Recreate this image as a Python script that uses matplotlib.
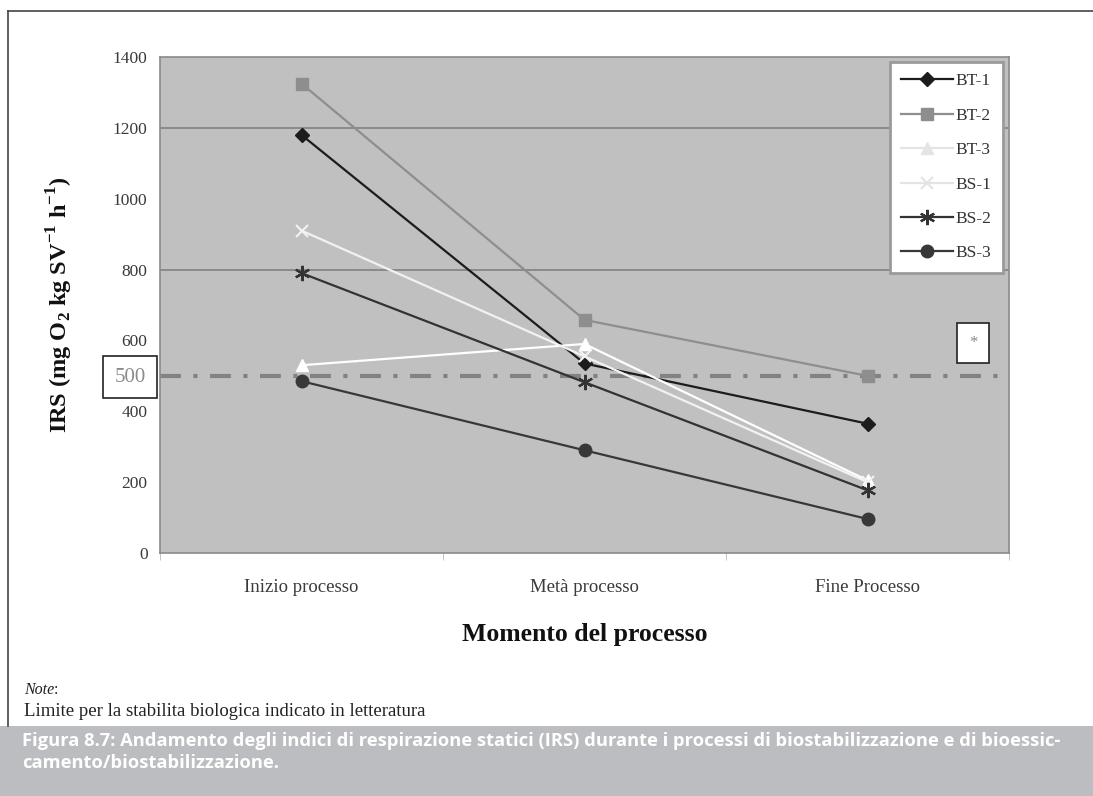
import matplotlib
matplotlib.use("Agg")
import matplotlib.pyplot as plt
from matplotlib.lines import Line2D

# Data: static respiration index over the process
categories = ["Inizio processo", "Metà processo", "Fine Processo"]
bt1 = [1180, 535, 365]
bt2 = [1325, 658, 500]
bt3 = [530, 590, 205]
bs1 = [910, 555, 200]
bs2 = [790, 482, 177]
bs3 = [485, 290, 96]
series_names = ["BT-1", "BT-2", "BT-3", "BS-1", "BS-2", "BS-3"]
limit_value = 500
y_ticks = [0, 200, 400, 600, 800, 1000, 1200, 1400]
grid_values = [800, 1200]

plt.rcParams["mathtext.fontset"] = "custom"
plt.rcParams["mathtext.rm"] = "Liberation Serif"
plt.rcParams["mathtext.bf"] = "Liberation Serif:bold"

serif = ["Liberation Serif", "DejaVu Serif"]
W, H = 1093, 796
fig = plt.figure(figsize=(W / 100, H / 100), dpi=100)
fig.patch.set_facecolor("white")

ax = fig.add_axes([160 / W, 1 - 553 / H, 849 / W, 496 / H])
ax.set_facecolor("#c0c0c0")
for s in ax.spines.values():
    s.set_color("#8a8a8a")
    s.set_linewidth(1.2)

x = list(range(len(categories)))
styles = [
    dict(color="#1c1c1c", marker="D", ms=7, mfc="#1c1c1c", mec="#1c1c1c"),
    dict(color="#8e8e8e", marker="s", ms=9, mfc="#8e8e8e", mec="#8e8e8e"),
    dict(color="#ffffff", marker="^", ms=9, mfc="#ffffff", mec="#ffffff"),
    dict(color="#f2f2f2", marker="x", ms=9, mew=1.5, mfc="#f2f2f2", mec="#f2f2f2"),
    dict(color="#333333", marker=(6, 2, 0), ms=11, mew=1.6, mfc="#333333", mec="#333333"),
    dict(color="#383838", marker="o", ms=9, mfc="#383838", mec="#383838"),
]
data = [bt1, bt2, bt3, bs1, bs2, bs3]

for yv in grid_values:
    ax.axhline(yv, color="#8a8a8a", lw=1.4, zorder=1)

ax.axhline(limit_value, color="#828282", lw=3, linestyle=(0, (5, 3, 1, 3)), zorder=2)

for name, vals, st in zip(series_names, data, styles):
    ax.plot(x, vals, lw=1.6, label=name, zorder=3, **st)

ax.set_xlim(-0.5, 2.5)
ax.set_ylim(0, 1400)
ax.set_yticks(y_ticks)
ax.set_yticklabels([str(v) for v in y_ticks], fontfamily=serif, fontsize=12.5, color="#3a3a3a")
ax.set_xticks(x)
ax.set_xticklabels(categories, fontfamily=serif, fontsize=13.5, color="#3a3a3a")
ax.set_xticks([-0.5, 0.5, 1.5, 2.5], minor=True)
ax.tick_params(axis="x", which="major", length=0, pad=19)
ax.tick_params(axis="x", which="minor", length=5, color="#bbbbbb", direction="out")
ax.tick_params(axis="y", length=0, pad=9)

ax.set_xlabel("Momento del processo", fontfamily=serif, fontsize=18.5,
              fontweight="bold", color="#111111")
ax.xaxis.set_label_coords(0.5, -0.142)
ax.set_ylabel(r"IRS (mg O$_\mathbf{2}$ kg SV$^\mathbf{-1}$ h$^\mathbf{-1}$)",
              fontfamily=serif, fontsize=17.5, fontweight="bold", color="#111111")
ax.yaxis.set_label_coords(-0.1, 0.5)

leg = ax.legend(loc="upper right", bbox_to_anchor=(1 - 6 / 849, 1 - 5 / 496), frameon=True,
                fancybox=False, prop={"family": serif, "size": 12.5},
                handlelength=3.0, labelspacing=1.05, borderpad=0.65,
                handletextpad=0.15, borderaxespad=0.0, framealpha=1)
leg.get_frame().set_edgecolor("#9a9a9a")
leg.get_frame().set_linewidth(2)
leg.get_frame().set_facecolor("white")
for t in leg.get_texts():
    t.set_color("#333333")
for h in leg.get_lines()[2:4]:
    h.set_color("#e4e4e4")
    h.set_markerfacecolor("#e4e4e4")
    h.set_markeredgecolor("#e4e4e4")

# Boxed labels for the literature limit
fig.text(130 / W, 1 - 377 / H, "500", fontfamily=serif, fontsize=15, color="#8a8a8a",
         ha="center", va="center",
         bbox=dict(boxstyle="square,pad=0.55", fc="white", ec="#222222", lw=1.2))
fig.text(973 / W, 1 - 343 / H, "*", fontfamily=serif, fontsize=12, color="#8a8a8a",
         ha="center", va="center",
         bbox=dict(boxstyle="square,pad=0.7", fc="white", ec="#222222", lw=1.2))

# Outer frame
fig.add_artist(Line2D([8 / W, 1.0], [1 - 11 / H, 1 - 11 / H], color="#444444", lw=1.2))
fig.add_artist(Line2D([8 / W, 8 / W], [1 - 11 / H, 1 - 726 / H], color="#444444", lw=1.2))

# Notes
fig.text(24 / W, 1 - 690 / H, "Note", fontfamily=serif, fontsize=11.5, style="italic",
         color="#222222", va="center")
fig.text(54 / W, 1 - 690 / H, ":", fontfamily=serif, fontsize=11.5, color="#222222", va="center")
fig.text(24 / W, 1 - 711 / H, "Limite per la stabilita biologica indicato in letteratura",
         fontfamily=serif, fontsize=13.5, color="#222222", va="center")

# Caption band
fig.add_artist(plt.Rectangle((0, 0), 1, 1 - 726 / H, transform=fig.transFigure,
                             facecolor="#bcbdc0", edgecolor="none", zorder=0))
cap = ["Figura 8.7: Andamento degli indici di respirazione statici (IRS) durante i processi "
       "di biostabilizzazione e di bioessic-", "camento/biostabilizzazione."]
cap_font = ["Open Sans", "DejaVu Sans"]
fig.text(22 / W, 1 - 741 / H, cap[0], fontfamily=cap_font, fontsize=13.2,
         fontweight="bold", color="white", va="center")
fig.text(22 / W, 1 - 763 / H, cap[1], fontfamily=cap_font, fontsize=13.2,
         fontweight="bold", color="white", va="center")

fig.savefig("out.png", dpi=100, facecolor="white")
